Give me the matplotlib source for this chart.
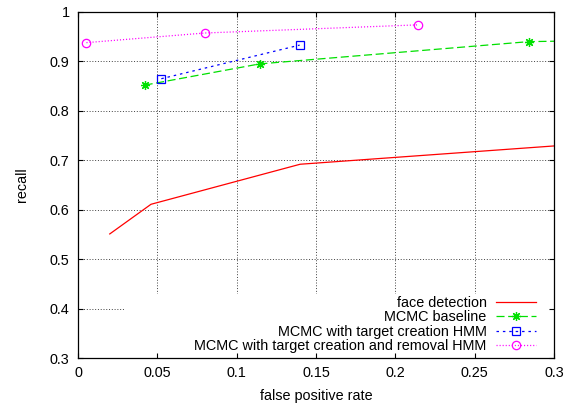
import numpy as np
import matplotlib
matplotlib.use("Agg")
import matplotlib.pyplot as plt
from matplotlib.patches import Rectangle
from matplotlib.ticker import FormatStrFormatter

plt.rcParams['font.family'] = ['Liberation Sans', 'DejaVu Sans']
plt.rcParams['lines.scale_dashes'] = False

# ROC-style points (false positive rate, recall)
face_fpr = [0.020, 0.046, 0.140, 0.300]
face_rec = [0.551, 0.611, 0.692, 0.729]

base_fpr = [0.042, 0.1145, 0.284, 0.36]
base_rec = [0.852, 0.895, 0.940, 0.944]

create_fpr = [0.0525, 0.1397]
create_rec = [0.865, 0.933]

remove_fpr = [0.0053, 0.080, 0.2145]
remove_rec = [0.938, 0.9575, 0.974]

labels = ["face detection",
          "MCMC baseline",
          "MCMC with target creation HMM",
          "MCMC with target creation and removal HMM"]

xticks = [0, 0.05, 0.1, 0.15, 0.2, 0.25, 0.3]
yticks = [0.3, 0.4, 0.5, 0.6, 0.7, 0.8, 0.9, 1.0]

fs = 10.4

fig = plt.figure(figsize=(5.84, 4.05), dpi=100)
ax = fig.add_axes([0.1336, 0.1160, 0.8150, 0.8544])
ax.set_xlim(0, 0.3)
ax.set_ylim(0.3, 1.0)

#dotted grid, drawn by hand so the key box can hide part of it
for xv in xticks[1:-1]:
    ax.axvline(xv, color='0.25', lw=0.7, linestyle=(0, (0.7, 1.3)), zorder=0.5)
for yv in yticks[1:-1]:
    ax.axhline(yv, color='0.25', lw=0.7, linestyle=(0, (0.7, 1.3)), zorder=0.5)

#opaque background of the key
ax.add_patch(Rectangle((0.029, 0.3), 0.3 - 0.029, 0.1295, facecolor='white',
                       edgecolor='none', zorder=0.8))

ax.plot(face_fpr, face_rec, color='#ff0000', lw=0.9, label=labels[0], zorder=2)
ax.plot(base_fpr, base_rec, color='#00e000', lw=0.9, dashes=(5.8, 2.6),
        marker=(8, 2, 0), markersize=6.5, markeredgewidth=0.9, label=labels[1], zorder=2)
ax.plot(create_fpr, create_rec, color='#0000ff', lw=0.9, dashes=(1.8, 2.8),
        marker='s', markersize=5.8, markerfacecolor='none', markeredgewidth=0.9,
        label=labels[2], zorder=2)
ax.plot(remove_fpr, remove_rec, color='#ff00ff', lw=0.9, dashes=(0.8, 1.4),
        marker='o', markersize=6.0, markerfacecolor='none', markeredgewidth=0.9,
        label=labels[3], zorder=2)

ax.set_xticks(xticks)
ax.set_yticks(yticks)
ax.xaxis.set_major_formatter(FormatStrFormatter('%g'))
ax.yaxis.set_major_formatter(FormatStrFormatter('%g'))
ax.tick_params(direction='in', length=3.5, width=0.8, labelsize=fs,
               top=True, right=True, pad=6)
for sp in ax.spines.values():
    sp.set_linewidth(0.9)

ax.set_xlabel("false positive rate", fontsize=fs, labelpad=6)
ax.set_ylabel("recall", fontsize=fs, labelpad=15)

ax.legend(loc='lower right', bbox_to_anchor=(1 - 18 / 476, 5 / 346),
          borderaxespad=0, borderpad=0, frameon=False, markerfirst=False,
          fontsize=fs, handlelength=2.8, handletextpad=0.62, labelspacing=0.02)

fig.savefig("out.png", dpi=100)
